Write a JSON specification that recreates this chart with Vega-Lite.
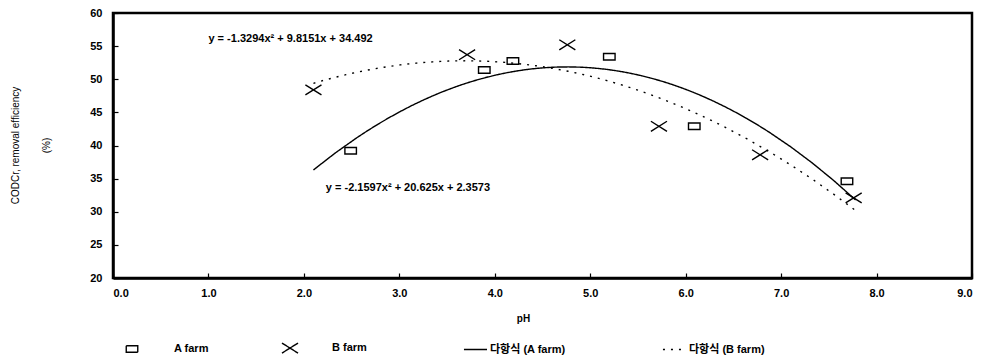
{
  "$schema": "https://vega.github.io/schema/vega-lite/v6.json",
  "width": 859,
  "height": 265,
  "autosize": {"type": "none"},
  "padding": {"left": 113, "top": 13, "right": 12, "bottom": 82},
  "background": "white",
  "config": {
    "view": {"stroke": "black", "strokeWidth": 2.5},
    "axis": {
      "grid": false,
      "domainColor": "black",
      "domainWidth": 2.5,
      "tickColor": "black",
      "tickSize": -5,
      "tickWidth": 1.2,
      "labelOverlap": false,
      "labelSeparation": 0,
      "labelBound": false,
      "labelFont": "Liberation Sans",
      "labelFontWeight": "bold",
      "labelFontSize": 11,
      "labelColor": "black",
      "titleFont": "Liberation Sans",
      "titleColor": "black"
    },
    "axisY": {"labelOverlap": false},
    "axisQuantitative": {"labelOverlap": false},
    "legend": {
      "labelFont": "Liberation Sans, Noto Sans CJK KR",
      "labelFontSize": 11,
      "labelFontWeight": "bold",
      "labelColor": "black",
      "labelOffset": 29,
      "columnPadding": 68,
      "symbolSize": 576,
      "symbolStrokeColor": "black",
      "symbolFillColor": "transparent",
      "symbolStrokeWidth": 1.4,
      "padding": 0
    }
  },
  "datasets": {
    "points": [
      {"farm": "A farm", "trend": "다항식 (A farm)", "x": 2.49, "y": 39.2},
      {"farm": "A farm", "trend": "다항식 (A farm)", "x": 3.89, "y": 51.4},
      {"farm": "A farm", "trend": "다항식 (A farm)", "x": 4.19, "y": 52.75},
      {"farm": "A farm", "trend": "다항식 (A farm)", "x": 5.2, "y": 53.4},
      {"farm": "A farm", "trend": "다항식 (A farm)", "x": 6.09, "y": 42.9},
      {"farm": "A farm", "trend": "다항식 (A farm)", "x": 7.69, "y": 34.6},
      {"farm": "B farm", "trend": "다항식 (B farm)", "x": 2.1, "y": 48.4},
      {"farm": "B farm", "trend": "다항식 (B farm)", "x": 3.71, "y": 53.7},
      {"farm": "B farm", "trend": "다항식 (B farm)", "x": 4.76, "y": 55.2},
      {"farm": "B farm", "trend": "다항식 (B farm)", "x": 5.72, "y": 42.9},
      {"farm": "B farm", "trend": "다항식 (B farm)", "x": 6.78, "y": 38.6},
      {"farm": "B farm", "trend": "다항식 (B farm)", "x": 7.76, "y": 32.1}
    ],
    "notes": [
      {"label": "y = -1.3294x² + 9.8151x + 34.492", "x": 1.0, "y": 56.1},
      {"label": "y = -2.1597x² + 20.625x + 2.3573", "x": 2.23, "y": 33.6}
    ]
  },
  "layer": [
    {
      "data": {"name": "points"},
      "transform": [
        {"regression": "y", "on": "x", "groupby": ["trend"], "method": "poly", "order": 2, "extent": [2.1, 7.78]}
      ],
      "mark": {"type": "line", "color": "black", "strokeWidth": 1.4},
      "encoding": {
        "x": {
          "field": "x", "type": "quantitative",
          "scale": {"domain": [0, 9], "nice": false, "zero": false},
          "axis": {"values": [0, 1, 2, 3, 4, 5, 6, 7, 8, 9], "format": ".1f", "labelOverlap": false, "labelPadding": 14, "title": "pH", "titleFontSize": 10, "titleFontWeight": "bold", "titleX": 410, "titleY": 35, "titleBaseline": "top"}
        },
        "y": {
          "field": "y", "type": "quantitative",
          "scale": {"domain": [20, 60], "nice": false, "zero": false},
          "axis": {"values": [20, 25, 30, 35, 40, 45, 50, 55, 60], "tickCount": 9, "format": "d", "labelOverlap": false, "labelPadding": 16, "title": ["CODCr, removal efficiency", "(%)"], "titleFontSize": 10, "titleFontWeight": "normal", "titleLineHeight": 31, "titleX": -103, "titleY": 132, "titleBaseline": "top", "titleAngle": -90}
        },
        "strokeDash": {
          "field": "trend", "type": "nominal",
          "scale": {"domain": ["A farm", "B farm", "다항식 (A farm)", "다항식 (B farm)"], "range": [[1, 0], [1, 0], [1, 0], [2, 6]]},
          "legend": {"title": null, "orient": "none", "legendX": 6, "legendY": 322, "direction": "horizontal", "columns": 4}
        }
      }
    },
    {
      "data": {"name": "points"},
      "mark": {"type": "point", "filled": false, "stroke": "black", "strokeWidth": 1.4, "opacity": 1, "size": 576},
      "encoding": {
        "x": {"field": "x", "type": "quantitative"},
        "y": {"field": "y", "type": "quantitative"},
        "shape": {
          "field": "farm", "type": "nominal",
          "scale": {"domain": ["A farm", "B farm", "다항식 (A farm)", "다항식 (B farm)"], "range": ["M-0.48,-0.27H0.48V0.27H-0.48Z", "M-0.67,-0.42L0.67,0.42M-0.67,0.42L0.67,-0.42", "M1.33,0H3.25", "M1.33,0H3.25"]},
          "legend": {"title": null, "orient": "none", "legendX": 6, "legendY": 322, "direction": "horizontal", "columns": 4}
        }
      }
    },
    {
      "data": {"name": "notes"},
      "mark": {"type": "text", "align": "left", "baseline": "middle", "font": "Liberation Sans", "fontWeight": "bold", "fontSize": 11, "color": "black"},
      "encoding": {
        "x": {"field": "x", "type": "quantitative"},
        "y": {"field": "y", "type": "quantitative"},
        "text": {"field": "label", "type": "nominal"}
      }
    }
  ]
}
